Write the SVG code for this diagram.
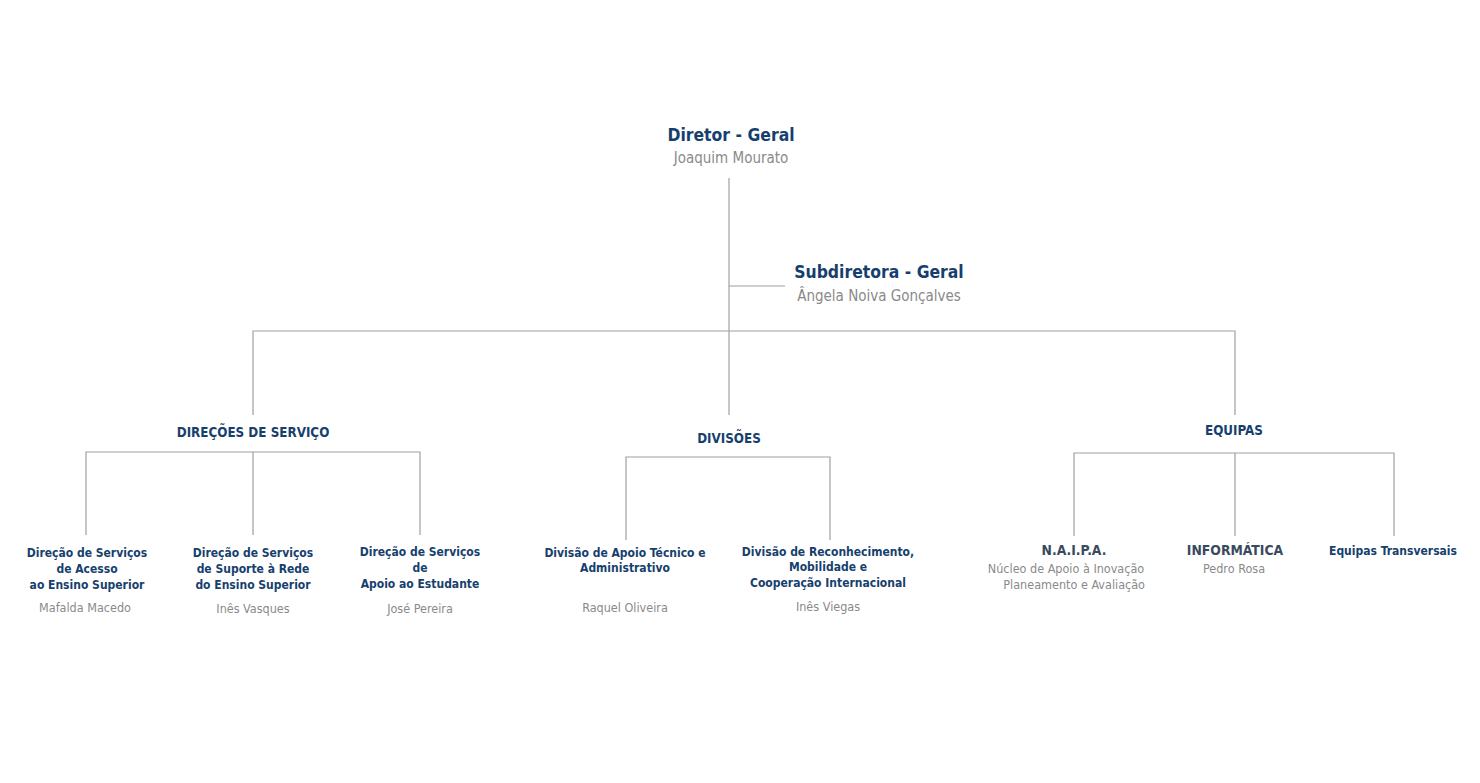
<svg xmlns="http://www.w3.org/2000/svg" width="1480" height="783" viewBox="0 0 1480 783">
<style>
.bg{fill:#ffffff}
text{font-family:"DejaVu Sans Condensed","DejaVu Sans",sans-serif;text-anchor:middle}
.t1{font-size:17.4px;font-weight:bold;fill:#173f6e}
.n1{font-size:15px;fill:#8a8a8a}
.h{font-size:13.3px;font-weight:bold;fill:#173f6e}
.u{font-size:12px;font-weight:bold;fill:#173f6e}
.g{font-size:12.5px;fill:#8a8a8a}
.d{font-size:13.8px;font-weight:bold;fill:#3a4a5e}
.c{fill:none;stroke:#a0a0a0;stroke-width:1.2}
</style>
<rect class="bg" x="0" y="0" width="1480" height="783"/>
<g id="connectors">
<path class="c" d="M729,178 V415"/>
<path class="c" d="M729,286 H785"/>
<path class="c" d="M253,415 V331 H1235 V415"/>
<path class="c" d="M86,535 V452 H420 V535 M253,452 V535"/>
<path class="c" d="M626,540 V457 H830 V540"/>
<path class="c" d="M1074,536 V453 H1394 V536 M1235,453 V536"/>
</g>
<g id="diretor">
<text class="t1" x="731" y="141">Diretor - Geral</text>
<text class="n1" x="731" y="163">Joaquim Mourato</text>
</g>
<g id="subdiretora">
<text class="t1" x="879" y="278">Subdiretora - Geral</text>
<text class="n1" x="879" y="301">Ângela Noiva Gonçalves</text>
</g>
<g id="direcoes">
<text class="h" x="253" y="437">DIREÇÕES DE SERVIÇO</text>
</g>
<g id="divisoes">
<text class="h" x="729" y="443">DIVISÕES</text>
</g>
<g id="equipas">
<text class="h" x="1234" y="435">EQUIPAS</text>
</g>
<g id="ds-acesso">
<text class="u" x="87" y="557">Direção de Serviços</text>
<text class="u" x="87" y="573">de Acesso</text>
<text class="u" x="87" y="589">ao Ensino Superior</text>
<text class="g" x="85" y="612">Mafalda Macedo</text>
</g>
<g id="ds-suporte">
<text class="u" x="253" y="557">Direção de Serviços</text>
<text class="u" x="253" y="573">de Suporte à Rede</text>
<text class="u" x="253" y="589">do Ensino Superior</text>
<text class="g" x="253" y="613">Inês Vasques</text>
</g>
<g id="ds-apoio">
<text class="u" x="420" y="556">Direção de Serviços</text>
<text class="u" x="420" y="572">de</text>
<text class="u" x="420" y="588">Apoio ao Estudante</text>
<text class="g" x="420" y="613">José Pereira</text>
</g>
<g id="div-apoio">
<text class="u" x="625" y="557">Divisão de Apoio Técnico e</text>
<text class="u" x="625" y="572">Administrativo</text>
<text class="g" x="625" y="612">Raquel Oliveira</text>
</g>
<g id="div-reconhecimento">
<text class="u" x="828" y="556">Divisão de Reconhecimento,</text>
<text class="u" x="828" y="571">Mobilidade e</text>
<text class="u" x="828" y="587">Cooperação Internacional</text>
<text class="g" x="828" y="611">Inês Viegas</text>
</g>
<g id="naipa">
<text class="d" x="1074" y="555">N.A.I.P.A.</text>
<text class="g" x="1066" y="573">Núcleo de Apoio à Inovação</text>
<text class="g" x="1145" y="589" style="text-anchor:end">Planeamento e Avaliação</text>
</g>
<g id="informatica">
<text class="d" x="1235" y="555">INFORMÁTICA</text>
<text class="g" x="1234" y="573">Pedro Rosa</text>
</g>
<g id="transversais">
<text class="u" x="1393" y="555">Equipas Transversais</text>
</g>
</svg>
